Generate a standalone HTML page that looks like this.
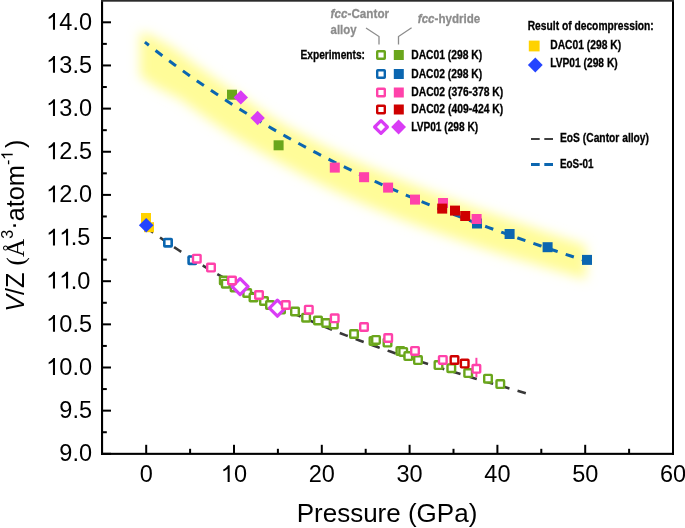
<!DOCTYPE html><html><head><meta charset="utf-8"><style>html,body{margin:0;padding:0;background:#fff;overflow:hidden}</style></head><body><svg width="685" height="528" viewBox="0 0 685 528" style="display:block;will-change:transform">
<defs><filter id="blur" x="-20%" y="-50%" width="140%" height="200%"><feGaussianBlur stdDeviation="6"/></filter></defs>
<rect width="685" height="528" fill="#fff"/>
<path d="M140.00,32.00 L150.00,35.00 L160.00,40.50 L170.00,46.00 L180.00,53.06 L185.14,56.94 L190.28,60.77 L195.42,64.55 L200.56,68.29 L205.70,71.98 L210.84,75.62 L215.97,79.22 L221.11,82.78 L226.25,86.29 L231.39,89.82 L236.53,93.45 L241.67,97.04 L246.81,100.58 L251.95,104.09 L257.09,107.55 L262.23,110.97 L267.37,114.35 L272.51,117.68 L277.65,120.98 L282.78,124.05 L287.92,126.91 L293.06,129.74 L298.20,132.53 L303.34,135.29 L308.48,138.01 L313.62,140.70 L318.76,143.35 L323.90,145.97 L329.04,148.56 L334.18,151.03 L339.32,153.46 L344.46,155.85 L349.59,158.22 L354.73,160.55 L359.87,162.85 L365.01,165.13 L370.15,167.34 L375.29,169.52 L380.43,171.68 L385.57,173.81 L390.71,175.91 L395.85,177.98 L400.99,180.04 L406.13,182.12 L411.27,184.17 L416.41,186.20 L421.54,188.21 L426.68,190.19 L431.82,192.15 L436.96,194.08 L442.10,196.00 L447.24,197.90 L452.38,199.78 L457.52,201.66 L462.66,203.52 L467.80,205.36 L472.94,207.18 L478.08,208.98 L483.22,210.77 L488.35,212.54 L493.49,214.30 L498.63,216.04 L503.77,217.81 L508.91,219.59 L514.05,221.36 L519.19,223.11 L524.33,224.85 L529.47,226.58 L534.61,228.36 L539.75,230.13 L544.89,231.90 L550.03,233.65 L555.16,235.40 L560.30,237.13 L565.44,238.86 L570.58,240.58 L575.72,242.30 L580.86,244.00 L586.00,245.70 L586.00,279.39 L580.86,277.89 L575.72,276.38 L570.58,274.87 L565.44,273.35 L560.30,271.83 L555.16,270.30 L550.03,268.76 L544.89,267.21 L539.75,265.65 L534.61,264.09 L529.47,262.52 L524.33,261.01 L519.19,259.48 L514.05,257.95 L508.91,256.40 L503.77,254.84 L498.63,253.25 L493.49,251.60 L488.35,249.93 L483.22,248.25 L478.08,246.56 L472.94,244.85 L467.80,243.12 L462.66,241.38 L457.52,239.62 L452.38,237.84 L447.24,236.06 L442.10,234.27 L436.96,232.46 L431.82,230.63 L426.68,228.78 L421.54,226.91 L416.41,225.02 L411.27,223.11 L406.13,221.17 L400.99,219.22 L395.85,217.20 L390.71,215.15 L385.57,213.07 L380.43,210.97 L375.29,208.84 L370.15,206.69 L365.01,204.51 L359.87,202.27 L354.73,200.00 L349.59,197.71 L344.46,195.39 L339.32,193.03 L334.18,190.65 L329.04,188.23 L323.90,185.69 L318.76,183.13 L313.62,180.53 L308.48,177.90 L303.34,175.24 L298.20,172.54 L293.06,169.82 L287.92,167.06 L282.78,164.26 L277.65,161.45 L272.51,158.64 L267.37,155.79 L262.23,152.90 L257.09,149.98 L251.95,147.02 L246.81,144.03 L241.67,141.00 L236.53,137.93 L231.39,134.83 L226.25,131.49 L221.11,128.05 L215.97,124.56 L210.84,121.03 L205.70,117.47 L200.56,113.85 L195.42,110.20 L190.28,106.50 L185.14,102.76 L180.00,98.97 L170.00,94.00 L160.00,89.00 L150.00,83.00 L140.00,76.00Z" fill="#fffc98" filter="url(#blur)"/>
<path d="M144.90,42.19 L152.36,48.03 L159.82,53.76 L167.28,59.39 L174.74,64.92 L182.20,70.35 L189.66,75.69 L197.12,80.92 L204.57,86.06 L212.03,91.11 L219.49,96.07 L226.95,100.94 L234.41,105.72 L241.87,110.41 L249.33,115.02 L256.79,119.54 L264.25,123.99 L271.71,128.35 L279.17,132.63 L286.63,136.84 L294.09,140.97 L301.55,145.03 L309.01,149.02 L316.46,152.94 L323.92,156.78 L331.38,160.56 L338.84,164.28 L346.30,167.93 L353.76,171.52 L361.22,175.05 L368.68,178.52 L376.14,181.93 L383.60,185.28 L391.06,188.59 L398.52,191.84 L405.98,195.03 L413.44,198.18 L420.89,201.29 L428.35,204.34 L435.81,207.35 L443.27,210.32 L450.73,213.25 L458.19,216.13 L465.65,218.98 L473.11,221.79 L480.57,224.57 L488.03,227.32 L495.49,230.03 L502.95,232.71 L510.41,235.37 L517.87,238.00 L525.33,240.60 L532.78,243.18 L540.24,245.74 L547.70,248.28 L555.16,250.79 L562.62,253.30 L570.08,255.78 L577.54,258.26 L585.00,260.72" fill="none" stroke="#0b66b0" stroke-width="3" stroke-dasharray="8.6 8.45" stroke-dashoffset="3.55"/>
<path d="M146.20,227.61 L152.64,232.27 L159.09,236.84 L165.53,241.31 L171.98,245.69 L178.42,249.98 L184.86,254.19 L191.31,258.30 L197.75,262.34 L204.20,266.28 L210.64,270.15 L217.08,273.94 L223.53,277.65 L229.97,281.28 L236.42,284.84 L242.86,288.32 L249.31,291.73 L255.75,295.07 L262.19,298.34 L268.64,301.55 L275.08,304.69 L281.53,307.76 L287.97,310.78 L294.41,313.73 L300.86,316.62 L307.30,319.46 L313.75,322.24 L320.19,324.97 L326.63,327.64 L333.08,330.26 L339.52,332.84 L345.97,335.36 L352.41,337.84 L358.85,340.28 L365.30,342.67 L371.74,345.02 L378.19,347.34 L384.63,349.61 L391.07,351.85 L397.52,354.05 L403.96,356.22 L410.41,358.36 L416.85,360.47 L423.29,362.55 L429.74,364.61 L436.18,366.64 L442.63,368.64 L449.07,370.63 L455.52,372.59 L461.96,374.54 L468.40,376.47 L474.85,378.39 L481.29,380.29 L487.74,382.18 L494.18,384.05 L500.62,385.92 L507.07,387.79 L513.51,389.64 L519.96,391.50 L526.40,393.35" fill="none" stroke="#383838" stroke-width="2.6" stroke-dasharray="8.6 8.4" stroke-dashoffset="0"/>
<rect x="220.00" y="276.70" width="7.60" height="7.60" fill="#fff" stroke="#6aa61c" stroke-width="2.4" rx="0.6"/>
<rect x="222.00" y="279.90" width="7.60" height="7.60" fill="#fff" stroke="#6aa61c" stroke-width="2.4" rx="0.6"/>
<rect x="230.80" y="283.70" width="7.60" height="7.60" fill="#fff" stroke="#6aa61c" stroke-width="2.4" rx="0.6"/>
<rect x="243.40" y="289.20" width="7.60" height="7.60" fill="#fff" stroke="#6aa61c" stroke-width="2.4" rx="0.6"/>
<rect x="249.70" y="293.70" width="7.60" height="7.60" fill="#fff" stroke="#6aa61c" stroke-width="2.4" rx="0.6"/>
<rect x="260.20" y="297.20" width="7.60" height="7.60" fill="#fff" stroke="#6aa61c" stroke-width="2.4" rx="0.6"/>
<rect x="266.20" y="301.20" width="7.60" height="7.60" fill="#fff" stroke="#6aa61c" stroke-width="2.4" rx="0.6"/>
<rect x="277.20" y="305.80" width="7.60" height="7.60" fill="#fff" stroke="#6aa61c" stroke-width="2.4" rx="0.6"/>
<rect x="291.20" y="307.70" width="7.60" height="7.60" fill="#fff" stroke="#6aa61c" stroke-width="2.4" rx="0.6"/>
<rect x="302.30" y="313.90" width="7.60" height="7.60" fill="#fff" stroke="#6aa61c" stroke-width="2.4" rx="0.6"/>
<rect x="314.20" y="316.70" width="7.60" height="7.60" fill="#fff" stroke="#6aa61c" stroke-width="2.4" rx="0.6"/>
<rect x="322.40" y="319.20" width="7.60" height="7.60" fill="#fff" stroke="#6aa61c" stroke-width="2.4" rx="0.6"/>
<rect x="330.00" y="320.70" width="7.60" height="7.60" fill="#fff" stroke="#6aa61c" stroke-width="2.4" rx="0.6"/>
<rect x="350.20" y="330.20" width="7.60" height="7.60" fill="#fff" stroke="#6aa61c" stroke-width="2.4" rx="0.6"/>
<rect x="369.70" y="337.20" width="7.60" height="7.60" fill="#fff" stroke="#6aa61c" stroke-width="2.4" rx="0.6"/>
<rect x="372.20" y="336.10" width="7.60" height="7.60" fill="#fff" stroke="#6aa61c" stroke-width="2.4" rx="0.6"/>
<rect x="383.70" y="338.80" width="7.60" height="7.60" fill="#fff" stroke="#6aa61c" stroke-width="2.4" rx="0.6"/>
<rect x="396.60" y="347.20" width="7.60" height="7.60" fill="#fff" stroke="#6aa61c" stroke-width="2.4" rx="0.6"/>
<rect x="399.40" y="348.10" width="7.60" height="7.60" fill="#fff" stroke="#6aa61c" stroke-width="2.4" rx="0.6"/>
<rect x="404.50" y="352.30" width="7.60" height="7.60" fill="#fff" stroke="#6aa61c" stroke-width="2.4" rx="0.6"/>
<rect x="414.20" y="356.30" width="7.60" height="7.60" fill="#fff" stroke="#6aa61c" stroke-width="2.4" rx="0.6"/>
<rect x="434.70" y="361.30" width="7.60" height="7.60" fill="#fff" stroke="#6aa61c" stroke-width="2.4" rx="0.6"/>
<rect x="447.50" y="364.40" width="7.60" height="7.60" fill="#fff" stroke="#6aa61c" stroke-width="2.4" rx="0.6"/>
<rect x="464.40" y="369.30" width="7.60" height="7.60" fill="#fff" stroke="#6aa61c" stroke-width="2.4" rx="0.6"/>
<rect x="484.20" y="374.90" width="7.60" height="7.60" fill="#fff" stroke="#6aa61c" stroke-width="2.4" rx="0.6"/>
<rect x="496.50" y="380.30" width="7.60" height="7.60" fill="#fff" stroke="#6aa61c" stroke-width="2.4" rx="0.6"/>
<path d="M240.10,278.60 L248.10,286.60 L240.10,294.60 L232.10,286.60Z" fill="#fff" stroke="#d93cf5" stroke-width="3.2" stroke-linejoin="round"/>
<path d="M277.40,300.20 L285.40,308.20 L277.40,316.20 L269.40,308.20Z" fill="#fff" stroke="#d93cf5" stroke-width="3.2" stroke-linejoin="round"/>
<rect x="164.30" y="239.00" width="7.40" height="7.40" fill="#fff" stroke="#0b66b0" stroke-width="2.6" rx="0.6"/>
<rect x="188.60" y="256.50" width="7.40" height="7.40" fill="#fff" stroke="#0b66b0" stroke-width="2.6" rx="0.6"/>
<line x1="476.4" y1="357.8" x2="476.4" y2="377.2" stroke="#ff42aa" stroke-width="2"/>
<rect x="193.00" y="254.90" width="7.60" height="7.60" fill="#fff" stroke="#ff42aa" stroke-width="2.4" rx="0.6"/>
<rect x="207.20" y="263.80" width="7.60" height="7.60" fill="#fff" stroke="#ff42aa" stroke-width="2.4" rx="0.6"/>
<rect x="228.20" y="276.70" width="7.60" height="7.60" fill="#fff" stroke="#ff42aa" stroke-width="2.4" rx="0.6"/>
<rect x="255.20" y="291.20" width="7.60" height="7.60" fill="#fff" stroke="#ff42aa" stroke-width="2.4" rx="0.6"/>
<rect x="282.00" y="301.20" width="7.60" height="7.60" fill="#fff" stroke="#ff42aa" stroke-width="2.4" rx="0.6"/>
<rect x="305.00" y="305.90" width="7.60" height="7.60" fill="#fff" stroke="#ff42aa" stroke-width="2.4" rx="0.6"/>
<rect x="330.90" y="314.50" width="7.60" height="7.60" fill="#fff" stroke="#ff42aa" stroke-width="2.4" rx="0.6"/>
<rect x="360.20" y="323.20" width="7.60" height="7.60" fill="#fff" stroke="#ff42aa" stroke-width="2.4" rx="0.6"/>
<rect x="384.40" y="334.20" width="7.60" height="7.60" fill="#fff" stroke="#ff42aa" stroke-width="2.4" rx="0.6"/>
<rect x="411.20" y="347.10" width="7.60" height="7.60" fill="#fff" stroke="#ff42aa" stroke-width="2.4" rx="0.6"/>
<rect x="439.00" y="356.10" width="7.60" height="7.60" fill="#fff" stroke="#ff42aa" stroke-width="2.4" rx="0.6"/>
<rect x="472.60" y="365.00" width="7.60" height="7.60" fill="#fff" stroke="#ff42aa" stroke-width="2.4" rx="0.6"/>
<rect x="450.70" y="356.20" width="7.60" height="7.60" fill="#fff" stroke="#cf0000" stroke-width="2.4" rx="0.6"/>
<rect x="460.90" y="359.80" width="7.60" height="7.60" fill="#fff" stroke="#cf0000" stroke-width="2.4" rx="0.6"/>
<rect x="141.00" y="213.00" width="10" height="10" fill="#ffd200"/>
<rect x="144.00" y="222.20" width="10" height="10" fill="#ffd200"/>
<path d="M146.20,218.00 L153.50,225.30 L146.20,232.60 L138.90,225.30Z" fill="#2444ff"/>
<rect x="227.00" y="89.70" width="10" height="10" fill="#6aa61c"/>
<rect x="273.60" y="140.30" width="10" height="10" fill="#6aa61c"/>
<path d="M240.80,90.20 L248.00,97.40 L240.80,104.60 L233.60,97.40Z" fill="#d93cf5"/>
<path d="M257.60,110.80 L264.80,118.00 L257.60,125.20 L250.40,118.00Z" fill="#d93cf5"/>
<rect x="472.00" y="218.50" width="10" height="10" fill="#0b66b0"/>
<rect x="504.60" y="229.00" width="10" height="10" fill="#0b66b0"/>
<rect x="542.60" y="242.20" width="10" height="10" fill="#0b66b0"/>
<rect x="582.00" y="254.90" width="10" height="10" fill="#0b66b0"/>
<rect x="329.80" y="162.60" width="10" height="10" fill="#ff42aa"/>
<rect x="359.10" y="172.20" width="10" height="10" fill="#ff42aa"/>
<rect x="383.10" y="182.60" width="10" height="10" fill="#ff42aa"/>
<rect x="410.00" y="194.60" width="10" height="10" fill="#ff42aa"/>
<rect x="438.00" y="198.00" width="10" height="10" fill="#ff42aa"/>
<rect x="471.60" y="214.00" width="10" height="10" fill="#ff42aa"/>
<rect x="437.20" y="203.60" width="10" height="10" fill="#cf0000"/>
<rect x="450.00" y="205.60" width="10" height="10" fill="#cf0000"/>
<rect x="460.20" y="211.00" width="10" height="10" fill="#cf0000"/>
<g fill="#000">
<rect x="101" y="0" width="2.1" height="455"/>
<rect x="101" y="452.8" width="573" height="2.1"/>
<rect x="672" y="0" width="2" height="455"/>
<rect x="101" y="0" width="573" height="1.7" fill="#2b2b2b"/>
<rect x="102" y="452.80" width="9" height="2"/>
<rect x="102" y="431.23" width="4.8" height="2"/>
<rect x="102" y="409.65" width="9" height="2"/>
<rect x="102" y="388.07" width="4.8" height="2"/>
<rect x="102" y="366.50" width="9" height="2"/>
<rect x="102" y="344.93" width="4.8" height="2"/>
<rect x="102" y="323.35" width="9" height="2"/>
<rect x="102" y="301.77" width="4.8" height="2"/>
<rect x="102" y="280.20" width="9" height="2"/>
<rect x="102" y="258.62" width="4.8" height="2"/>
<rect x="102" y="237.05" width="9" height="2"/>
<rect x="102" y="215.47" width="4.8" height="2"/>
<rect x="102" y="193.90" width="9" height="2"/>
<rect x="102" y="172.33" width="4.8" height="2"/>
<rect x="102" y="150.75" width="9" height="2"/>
<rect x="102" y="129.18" width="4.8" height="2"/>
<rect x="102" y="107.60" width="9" height="2"/>
<rect x="102" y="86.02" width="4.8" height="2"/>
<rect x="102" y="64.45" width="9" height="2"/>
<rect x="102" y="42.88" width="4.8" height="2"/>
<rect x="102" y="21.30" width="9" height="2"/>
<rect x="145.20" y="444.80" width="2" height="9"/>
<rect x="189.10" y="448.80" width="2" height="5"/>
<rect x="233.00" y="444.80" width="2" height="9"/>
<rect x="276.90" y="448.80" width="2" height="5"/>
<rect x="320.80" y="444.80" width="2" height="9"/>
<rect x="364.70" y="448.80" width="2" height="5"/>
<rect x="408.60" y="444.80" width="2" height="9"/>
<rect x="452.50" y="448.80" width="2" height="5"/>
<rect x="496.40" y="444.80" width="2" height="9"/>
<rect x="540.30" y="448.80" width="2" height="5"/>
<rect x="584.20" y="444.80" width="2" height="9"/>
<rect x="628.10" y="448.80" width="2" height="5"/>
<rect x="672.00" y="444.80" width="2" height="9"/>
</g>
<g font-family='"Liberation Sans", sans-serif' font-size='23.5' fill='#000'>
<text x='59.33' y='461.20'>9.0</text>
<text x='59.33' y='418.05'>9.5</text>
<text x='46.26' y='374.90'><tspan fill-opacity='0'>1</tspan>0.0</text><path d='M763,0 L583,0 L583,1147 Q480,1050 340,985 Q270,952 210,932 L210,1106 Q330,1160 440,1250 Q560,1350 620,1466 L763,1466 Z' transform='translate(46.26,374.90) scale(0.01147,-0.01147)'/>
<text x='46.26' y='331.75'><tspan fill-opacity='0'>1</tspan>0.5</text><path d='M763,0 L583,0 L583,1147 Q480,1050 340,985 Q270,952 210,932 L210,1106 Q330,1160 440,1250 Q560,1350 620,1466 L763,1466 Z' transform='translate(46.26,331.75) scale(0.01147,-0.01147)'/>
<text x='46.26' y='288.60'><tspan fill-opacity='0'>1</tspan><tspan fill-opacity='0'>1</tspan>.0</text><path d='M763,0 L583,0 L583,1147 Q480,1050 340,985 Q270,952 210,932 L210,1106 Q330,1160 440,1250 Q560,1350 620,1466 L763,1466 Z' transform='translate(46.26,288.60) scale(0.01147,-0.01147)'/><path d='M763,0 L583,0 L583,1147 Q480,1050 340,985 Q270,952 210,932 L210,1106 Q330,1160 440,1250 Q560,1350 620,1466 L763,1466 Z' transform='translate(59.33,288.60) scale(0.01147,-0.01147)'/>
<text x='46.26' y='245.45'><tspan fill-opacity='0'>1</tspan><tspan fill-opacity='0'>1</tspan>.5</text><path d='M763,0 L583,0 L583,1147 Q480,1050 340,985 Q270,952 210,932 L210,1106 Q330,1160 440,1250 Q560,1350 620,1466 L763,1466 Z' transform='translate(46.26,245.45) scale(0.01147,-0.01147)'/><path d='M763,0 L583,0 L583,1147 Q480,1050 340,985 Q270,952 210,932 L210,1106 Q330,1160 440,1250 Q560,1350 620,1466 L763,1466 Z' transform='translate(59.33,245.45) scale(0.01147,-0.01147)'/>
<text x='46.26' y='202.30'><tspan fill-opacity='0'>1</tspan>2.0</text><path d='M763,0 L583,0 L583,1147 Q480,1050 340,985 Q270,952 210,932 L210,1106 Q330,1160 440,1250 Q560,1350 620,1466 L763,1466 Z' transform='translate(46.26,202.30) scale(0.01147,-0.01147)'/>
<text x='46.26' y='159.15'><tspan fill-opacity='0'>1</tspan>2.5</text><path d='M763,0 L583,0 L583,1147 Q480,1050 340,985 Q270,952 210,932 L210,1106 Q330,1160 440,1250 Q560,1350 620,1466 L763,1466 Z' transform='translate(46.26,159.15) scale(0.01147,-0.01147)'/>
<text x='46.26' y='116.00'><tspan fill-opacity='0'>1</tspan>3.0</text><path d='M763,0 L583,0 L583,1147 Q480,1050 340,985 Q270,952 210,932 L210,1106 Q330,1160 440,1250 Q560,1350 620,1466 L763,1466 Z' transform='translate(46.26,116.00) scale(0.01147,-0.01147)'/>
<text x='46.26' y='72.85'><tspan fill-opacity='0'>1</tspan>3.5</text><path d='M763,0 L583,0 L583,1147 Q480,1050 340,985 Q270,952 210,932 L210,1106 Q330,1160 440,1250 Q560,1350 620,1466 L763,1466 Z' transform='translate(46.26,72.85) scale(0.01147,-0.01147)'/>
<text x='46.26' y='29.70'><tspan fill-opacity='0'>1</tspan>4.0</text><path d='M763,0 L583,0 L583,1147 Q480,1050 340,985 Q270,952 210,932 L210,1106 Q330,1160 440,1250 Q560,1350 620,1466 L763,1466 Z' transform='translate(46.26,29.70) scale(0.01147,-0.01147)'/>
<text x='139.67' y='482.00'>0</text>
<text x='220.93' y='482.00'><tspan fill-opacity='0'>1</tspan>0</text><path d='M763,0 L583,0 L583,1147 Q480,1050 340,985 Q270,952 210,932 L210,1106 Q330,1160 440,1250 Q560,1350 620,1466 L763,1466 Z' transform='translate(220.93,482.00) scale(0.01147,-0.01147)'/>
<text x='308.73' y='482.00'>20</text>
<text x='396.53' y='482.00'>30</text>
<text x='484.33' y='482.00'>40</text>
<text x='572.13' y='482.00'>50</text>
<text x='659.93' y='482.00'>60</text>
</g>
<text x='387' y='522' font-family='"Liberation Sans", sans-serif' font-size='26' text-anchor='middle'>Pressure (GPa)</text>
<g transform='translate(24,311.8) rotate(-90)'><text id='yt' x='0' y='0' font-family='"Liberation Sans", sans-serif' font-size='25.3' text-anchor='start'><tspan font-style='italic'>V</tspan>/Z <tspan font-family='"Liberation Serif", serif'>(Å</tspan><tspan font-size='16' dy='-11.3'>3</tspan><tspan dy='9.6'>·</tspan><tspan dy='1.7'>atom</tspan><tspan font-size='16' dy='-11.3'>-<tspan fill-opacity='0'>1</tspan></tspan><tspan dy='11.3' dx='3'>)</tspan></text><path d='M763,0 L583,0 L583,1147 Q480,1050 340,985 Q270,952 210,932 L210,1106 Q330,1160 440,1250 Q560,1350 620,1466 L763,1466 Z' transform='translate(152.00,-11.3) scale(0.00781,-0.00781)'/></g>
<text x='330.6' y='18.2' font-family='"Liberation Sans", sans-serif' font-weight='bold' stroke-width='0.3' font-size='13.6' fill='#8c8c8c' stroke='#8c8c8c' textLength='58.5' lengthAdjust='spacingAndGlyphs'><tspan font-style='italic'>fcc</tspan>-Cantor</text>
<text x='330.6' y='34.2' font-family='"Liberation Sans", sans-serif' font-weight='bold' stroke-width='0.3' font-size='13.6' fill='#8c8c8c' stroke='#8c8c8c' textLength='26' lengthAdjust='spacingAndGlyphs'>alloy</text>
<text x='417.8' y='22.7' font-family='"Liberation Sans", sans-serif' font-weight='bold' stroke-width='0.3' font-size='13.6' fill='#8c8c8c' stroke='#8c8c8c' textLength='62.5' lengthAdjust='spacingAndGlyphs'><tspan font-style='italic'>fcc</tspan>-hydride</text>
<path d='M366,28 L379,36.5 L379,44.5' fill='none' stroke='#8c8c8c' stroke-width='1.3'/>
<path d='M411.6,27.7 L398.5,36.5 L398.5,44.5' fill='none' stroke='#8c8c8c' stroke-width='1.3'/>
<text x='300.5' y='58.5' font-family='"Liberation Sans", sans-serif' font-weight='bold' stroke-width='0.3' font-size='12.6' fill='#000' stroke='#000' textLength='64.5' lengthAdjust='spacingAndGlyphs' >Experiments:</text>
<rect x="377.20" y="51.20" width="7.60" height="7.60" fill="#fff" stroke="#6aa61c" stroke-width="2.4" rx="0.6"/>
<rect x="393.80" y="50.00" width="10" height="10" fill="#6aa61c"/>
<text x='411.2' y='58.8' font-family='"Liberation Sans", sans-serif' font-weight='bold' stroke-width='0.3' font-size='12.6' fill='#000' stroke='#000' textLength='71' lengthAdjust='spacingAndGlyphs' >DAC01 (298 K)</text>
<rect x="377.20" y="70.20" width="7.60" height="7.60" fill="#fff" stroke="#0b66b0" stroke-width="2.4" rx="0.6"/>
<rect x="393.80" y="69.00" width="10" height="10" fill="#0b66b0"/>
<text x='411.2' y='77.8' font-family='"Liberation Sans", sans-serif' font-weight='bold' stroke-width='0.3' font-size='12.6' fill='#000' stroke='#000' textLength='71' lengthAdjust='spacingAndGlyphs' >DAC02 (298 K)</text>
<rect x="377.20" y="88.70" width="7.60" height="7.60" fill="#fff" stroke="#ff42aa" stroke-width="2.4" rx="0.6"/>
<rect x="393.80" y="87.50" width="10" height="10" fill="#ff42aa"/>
<text x='411.2' y='96.3' font-family='"Liberation Sans", sans-serif' font-weight='bold' stroke-width='0.3' font-size='12.6' fill='#000' stroke='#000' textLength='92' lengthAdjust='spacingAndGlyphs' >DAC02 (376-378 K)</text>
<rect x="377.20" y="105.70" width="7.60" height="7.60" fill="#fff" stroke="#cf0000" stroke-width="2.4" rx="0.6"/>
<rect x="393.80" y="104.50" width="10" height="10" fill="#cf0000"/>
<text x='411.2' y='113.3' font-family='"Liberation Sans", sans-serif' font-weight='bold' stroke-width='0.3' font-size='12.6' fill='#000' stroke='#000' textLength='92' lengthAdjust='spacingAndGlyphs' >DAC02 (409-424 K)</text>
<path d="M381.00,120.60 L387.40,127.00 L381.00,133.40 L374.60,127.00Z" fill="#fff" stroke="#d93cf5" stroke-width="3.2" stroke-linejoin="round"/>
<path d="M398.60,119.60 L406.00,127.00 L398.60,134.40 L391.20,127.00Z" fill="#d93cf5"/>
<text x='411.2' y='131' font-family='"Liberation Sans", sans-serif' font-weight='bold' stroke-width='0.3' font-size='12.6' fill='#000' stroke='#000' textLength='67' lengthAdjust='spacingAndGlyphs' >LVP01 (298 K)</text>
<text x='527.7' y='29.7' font-family='"Liberation Sans", sans-serif' font-weight='bold' stroke-width='0.3' font-size='12.6' fill='#000' stroke='#000' textLength='126' lengthAdjust='spacingAndGlyphs' >Result of decompression:</text>
<rect x="528.80" y="40.60" width="10.8" height="10.8" fill="#ffd200"/>
<text x='550.2' y='49.4' font-family='"Liberation Sans", sans-serif' font-weight='bold' stroke-width='0.3' font-size='12.6' fill='#000' stroke='#000' textLength='71' lengthAdjust='spacingAndGlyphs' >DAC01 (298 K)</text>
<path d="M535.30,57.60 L542.70,65.00 L535.30,72.40 L527.90,65.00Z" fill="#2444ff"/>
<text x='550.2' y='67.4' font-family='"Liberation Sans", sans-serif' font-weight='bold' stroke-width='0.3' font-size='12.6' fill='#000' stroke='#000' textLength='67.5' lengthAdjust='spacingAndGlyphs' >LVP01 (298 K)</text>
<path d='M531,139 H553.3' stroke='#404040' stroke-width='2.2' stroke-dasharray='8.7 4.6'/>
<text x='560' y='142.3' font-family='"Liberation Sans", sans-serif' font-weight='bold' stroke-width='0.3' font-size='12.6' fill='#000' stroke='#000' textLength='89' lengthAdjust='spacingAndGlyphs' >EoS (Cantor alloy)</text>
<path d='M531,164.4 H553.3' stroke='#0b66b0' stroke-width='3' stroke-dasharray='8.7 4.6'/>
<text x='560' y='167.7' font-family='"Liberation Sans", sans-serif' font-weight='bold' stroke-width='0.3' font-size='12.6' fill='#000' stroke='#000' textLength='33.5' lengthAdjust='spacingAndGlyphs' >EoS-01</text>
</svg></body></html>
